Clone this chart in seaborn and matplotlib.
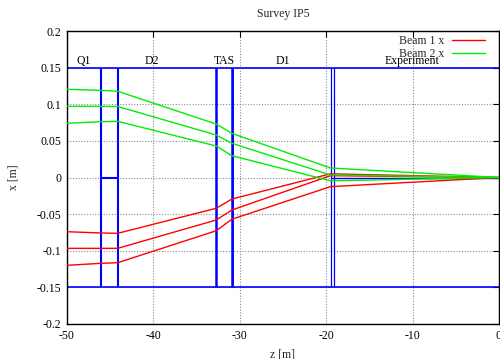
import numpy as np
import pandas as pd
import matplotlib
matplotlib.use("Agg")
import matplotlib.pyplot as plt
import seaborn as sns
from matplotlib.lines import Line2D

# ---- data ----
z_pts = [-50.0, -46.06, -44.1, -32.7, -30.9, -19.5, 0.0]

beam2_top = [0.1204, 0.1190, 0.1177, 0.0730, 0.0603, 0.0130, 0.0]
beam2_mid = [0.0972, 0.0972, 0.0970, 0.0580, 0.0467, 0.0035, 0.0]
beam2_bot = [0.0740, 0.0762, 0.0767, 0.0430, 0.0298, -0.0045, 0.0]

beam1_top = [-0.0740, -0.0757, -0.0762, -0.0420, -0.0294, 0.0050, 0.0]
beam1_mid = [-0.0967, -0.0967, -0.0967, -0.0580, -0.0444, 0.0025, 0.0]
beam1_bot = [-0.1199, -0.1172, -0.1163, -0.0727, -0.0570, -0.0125, 0.0]

# element boundaries (z) and names
element_edges = [-46.06, -44.1, -32.7, -30.9, -30.8, -19.45, -19.05]
element_names = ["Q1", "D2", "TAS", "D1", "Experiment"]
element_label_z = [-48.0, -40.1, -31.8, -25.0, -10.1]
aperture = 0.15

x_ticks = [-50, -40, -30, -20, -10, 0]
y_ticks = [-0.2, -0.15, -0.1, -0.05, 0, 0.05, 0.1, 0.15, 0.2]
y_tick_labels = ["-0.2", "-0.15", "-0.1", "-0.05", "0", "0.05", "0.1", "0.15", "0.2"]

# ---- style ----
sns.set_theme(style="white")
plt.rcParams['font.family'] = ['Liberation Serif', 'DejaVu Serif']
FS = 8.5
plt.rcParams['font.size'] = FS

fig = plt.figure(figsize=(5.0, 3.59), dpi=100)
ax = fig.add_axes([0.1334, 0.0975, 0.8646, 0.8161])

# grid
for xt in x_ticks:
    ax.axvline(xt, color='0.55', lw=0.8, ls=(0, (1, 1.5)), zorder=0)
for yt in y_ticks:
    ax.axhline(yt, color='0.55', lw=0.8, ls=(0, (1, 1.5)), zorder=0)

# element outlines (blue)
blue = '#0000ff'
ax.plot([-50, 0], [aperture, aperture], color=blue, lw=1.2, zorder=2, solid_capstyle='butt')
ax.plot([-50, 0], [-aperture, -aperture], color=blue, lw=1.2, zorder=2, solid_capstyle='butt')
lws = [1.5, 1.5, 1.8, 1.8, 1.2, 0.9, 0.9]
for ze, lw in zip(element_edges, lws):
    ax.plot([ze, ze], [-aperture, aperture], color=blue, lw=lw, zorder=2, solid_capstyle='butt')
ax.plot([element_edges[0], element_edges[1]], [0, 0], color=blue, lw=1.5, zorder=2, solid_capstyle='butt')
ax.plot([element_edges[5], 0], [0, 0], color=blue, lw=1.0, zorder=2, solid_capstyle='butt')

for name, zl in zip(element_names, element_label_z):
    ax.text(zl, 0.1545, name, ha='center', va='baseline', fontsize=FS, color='black')

# beam lines
rows = []
for beam, series in [("Beam 1 x", [beam1_top, beam1_mid, beam1_bot]),
                     ("Beam 2 x", [beam2_top, beam2_mid, beam2_bot])]:
    for k, vals in enumerate(series):
        for z, v in zip(z_pts, vals):
            rows.append({"z": z, "x": v, "beam": beam, "line": f"{beam}{k}"})
df = pd.DataFrame(rows)

sns.lineplot(data=df, x="z", y="x", hue="beam", units="line", estimator=None,
             sort=False, palette={"Beam 1 x": "#ff0000", "Beam 2 x": "#00ee00"},
             lw=1.0, ax=ax, legend=False, zorder=3)

ax.set_xlim(-50, 0)
ax.set_ylim(-0.2, 0.2)
ax.set_xticks(x_ticks)
ax.set_xticklabels([str(t) for t in x_ticks])
ax.set_yticks(y_ticks)
ax.set_yticklabels(y_tick_labels)
ax.tick_params(direction='in', length=4, width=0.8, top=True, right=True,
               labelsize=FS, pad=4, colors='black')
for s in ax.spines.values():
    s.set_visible(True)
    s.set_color('black')
    s.set_linewidth(1.0)

ax.set_xlabel("z [m]", fontsize=FS, labelpad=5)
ax.set_ylabel("x [m]", fontsize=FS, labelpad=12)
ax.set_title("Survey IP5", fontsize=FS, pad=10)

handles = [Line2D([], [], color='#ff0000', lw=1.0), Line2D([], [], color='#00ee00', lw=1.0)]
ax.legend(handles, ["Beam 1 x", "Beam 2 x"], loc='upper right',
          bbox_to_anchor=(0.968, 0.985), frameon=False, markerfirst=False,
          fontsize=FS, handlelength=2.8, handletextpad=0.7, labelspacing=0.05,
          borderpad=0, borderaxespad=0)

fig.savefig("out.png", dpi=100)
